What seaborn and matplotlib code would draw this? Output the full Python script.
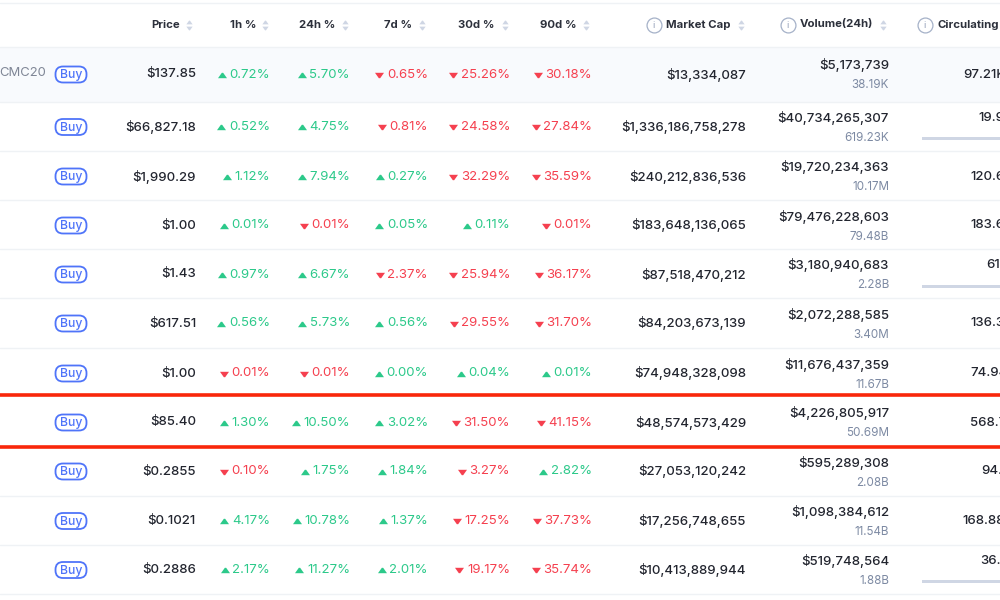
import matplotlib
matplotlib.use("Agg")
import matplotlib.pyplot as plt
from matplotlib.markers import MarkerStyle
from matplotlib.patches import FancyBboxPatch, Rectangle
import pandas as pd
import seaborn as sns

sns.set_theme(style="white")
plt.rcParams["font.family"] = ["Inter", "DejaVu Sans"]

headers = ["Price", "1h %", "24h %", "7d %", "30d %", "90d %", "Market Cap", "Volume(24h)", "Circulating"]
prices = ["$137.85", "$66,827.18", "$1,990.29", "$1.00", "$1.43", "$617.51", "$1.00", "$85.40", "$0.2855", "$0.1021", "$0.2886"]
change_1h = [0.72, 0.52, 1.12, 0.01, 0.97, 0.56, -0.01, 1.30, -0.10, 4.17, 2.17]
change_24h = [5.70, 4.75, 7.94, -0.01, 6.67, 5.73, -0.01, 10.50, 1.75, 10.78, 11.27]
change_7d = [-0.65, -0.81, 0.27, 0.05, -2.37, 0.56, 0.00, 3.02, 1.84, 1.37, 2.01]
change_30d = [-25.26, -24.58, -32.29, 0.11, -25.94, -29.55, 0.04, -31.50, -3.27, -17.25, -19.17]
change_90d = [-30.18, -27.84, -35.59, -0.01, -36.17, -31.70, 0.01, -41.15, 2.82, -37.73, -35.74]
market_cap = ["$13,334,087", "$1,336,186,758,278", "$240,212,836,536", "$183,648,136,065", "$87,518,470,212",
              "$84,203,673,139", "$74,948,328,098", "$48,574,573,429", "$27,053,120,242", "$17,256,748,655", "$10,413,889,944"]
volume_usd = ["$5,173,739", "$40,734,265,307", "$19,720,234,363", "$79,476,228,603", "$3,180,940,683",
              "$2,072,288,585", "$11,676,437,359", "$4,226,805,917", "$595,289,308", "$1,098,384,612", "$519,748,564"]
volume_coin = ["38.19K", "619.23K", "10.17M", "79.48B", "2.28B", "3.40M", "11.67B", "50.69M", "2.08B", "11.54B", "1.88B"]
circulating = ["97.21K", "19.9", "120.6", "183.6", "61", "136.3", "74.94", "568.7", "94.", "168.88", "36."]
circ_left = [963, 978, 970, 970, 986, 970, 970, 970, 981, 962, 980]
has_bar = [False, True, False, False, True, False, False, False, False, False, True]

row_y = [74, 126.5, 176, 225, 274, 323, 373, 422, 471, 520.5, 569.5]
row_lines = [47, 102, 150.5, 200, 249, 298, 348, 496, 545, 594]
pct_right = [270, 350, 428, 510, 592]
INK, SUB, GREEN, RED, BLUE, ICON = "#22252f", "#7d8aa3", "#2cc98a", "#f5404f", "#4f74f9", "#cfd6e4"

fig = plt.figure(figsize=(10, 6), dpi=100, facecolor="white")
ax = fig.add_axes([0, 0, 1, 1])
ax.set_xlim(0, 1000)
ax.set_ylim(600, 0)
ax.axis("off")

# scatter markers are not flipped by the inverted y axis
UP = MarkerStyle([(-1, -0.6), (1, -0.6), (0.15, 0.6), (-0.15, 0.6)])
DOWN = MarkerStyle([(-1, 0.6), (1, 0.6), (0.15, -0.6), (-0.15, -0.6)])

ax.add_patch(Rectangle((0, 47), 1000, 55, fc="#f8fafd", ec="none", zorder=0))
for y in row_lines + [3]:
    ax.axhline(y, color="#eff2f5", lw=1, zorder=1)
for y in [394.5, 447]:
    ax.axhline(y, color="#f9270b", lw=2.6, zorder=5)

# header
fs_h, fs = 8.2, 9.5
head_right = [180, 256, 335, 412, 494, 576, 731, 873]
sort_x = [189, 265, 345, 422, 505, 586, 741, 883]
for name, x in zip(headers[:8], head_right):
    ax.text(x, 24.5, name, ha="right", va="center", fontsize=fs_h, fontweight="bold", color="#2c303b")
ax.text(937, 24.5, headers[8], ha="left", va="center", fontsize=fs_h, fontweight="bold", color="#2c303b")
sns.scatterplot(x=sort_x, y=[21.5] * 8, marker=UP, s=20, color=ICON, linewidth=0, ax=ax, legend=False)
sns.scatterplot(x=sort_x, y=[28] * 8, marker=DOWN, s=20, color=ICON, linewidth=0, ax=ax, legend=False)
for x in [654, 788, 925]:
    ax.scatter([x], [25], s=115, facecolor="white", edgecolor="#a5b1c8", linewidth=0.9)
    ax.text(x, 25, "i", ha="center", va="center", fontsize=6.5, color="#8e9bb5")

# rows
ax.text(46, row_y[0] - 0.5, "CMC20", ha="right", va="center", fontsize=9.4, color="#7f8696")
pct_cols = [change_1h, change_24h, change_7d, change_30d, change_90d]
pct_texts = []
for i, y in enumerate(row_y):
    ax.add_patch(FancyBboxPatch((55.5, y - 7.5), 31, 16, boxstyle="round,pad=0,rounding_size=7.5",
                                fc="white", ec=BLUE, lw=1.3, zorder=3, mutation_aspect=1))
    ax.text(71, y + 1.2, "Buy", ha="center", va="center", fontsize=8.8, fontweight="medium", color=BLUE, zorder=4)
    ax.text(196, y + 0.5, prices[i], ha="right", va="center", fontsize=fs, fontweight="medium", color=INK)
    for col, right in zip(pct_cols, pct_right):
        v = col[i]
        t = ax.text(right, y + 0.5, f"{abs(v):.2f}%", ha="right", va="center", fontsize=fs,
                    color=GREEN if v >= 0 else RED)
        pct_texts.append((t, y, v))
    ax.text(746, y + 0.5, market_cap[i], ha="right", va="center", fontsize=fs, fontweight="medium", color=INK)
    ax.text(889, y - 8.5, volume_usd[i], ha="right", va="center", fontsize=fs, fontweight="medium", color=INK)
    ax.text(889, y + 11.5, volume_coin[i], ha="right", va="center", fontsize=8.4, color=SUB)
    ax.text(circ_left[i], y + 0.5 - (9 if has_bar[i] else 0), circulating[i], ha="left", va="center",
            fontsize=fs, fontweight="medium", color=INK, clip_on=True)
    if has_bar[i]:
        ax.add_patch(Rectangle((922, y + 10.5), 90, 3.4, fc="#cfd6e4", ec="none", zorder=2))

# arrows placed left of each measured percentage label
fig.canvas.draw()
renderer = fig.canvas.get_renderer()
arrows = pd.DataFrame([
    {"x": t.get_window_extent(renderer).x0 - 7.5, "y": y + 0.5, "up": v >= 0} for t, y, v in pct_texts
])
for flag, marker, color in [(True, UP, GREEN), (False, DOWN, RED)]:
    part = arrows[arrows["up"] == flag]
    sns.scatterplot(data=part, x="x", y="y", marker=marker, s=42, color=color, linewidth=0, ax=ax, legend=False)

ax.set_xlabel("")
ax.set_ylabel("")
fig.savefig("out.png", dpi=100, facecolor="white")
